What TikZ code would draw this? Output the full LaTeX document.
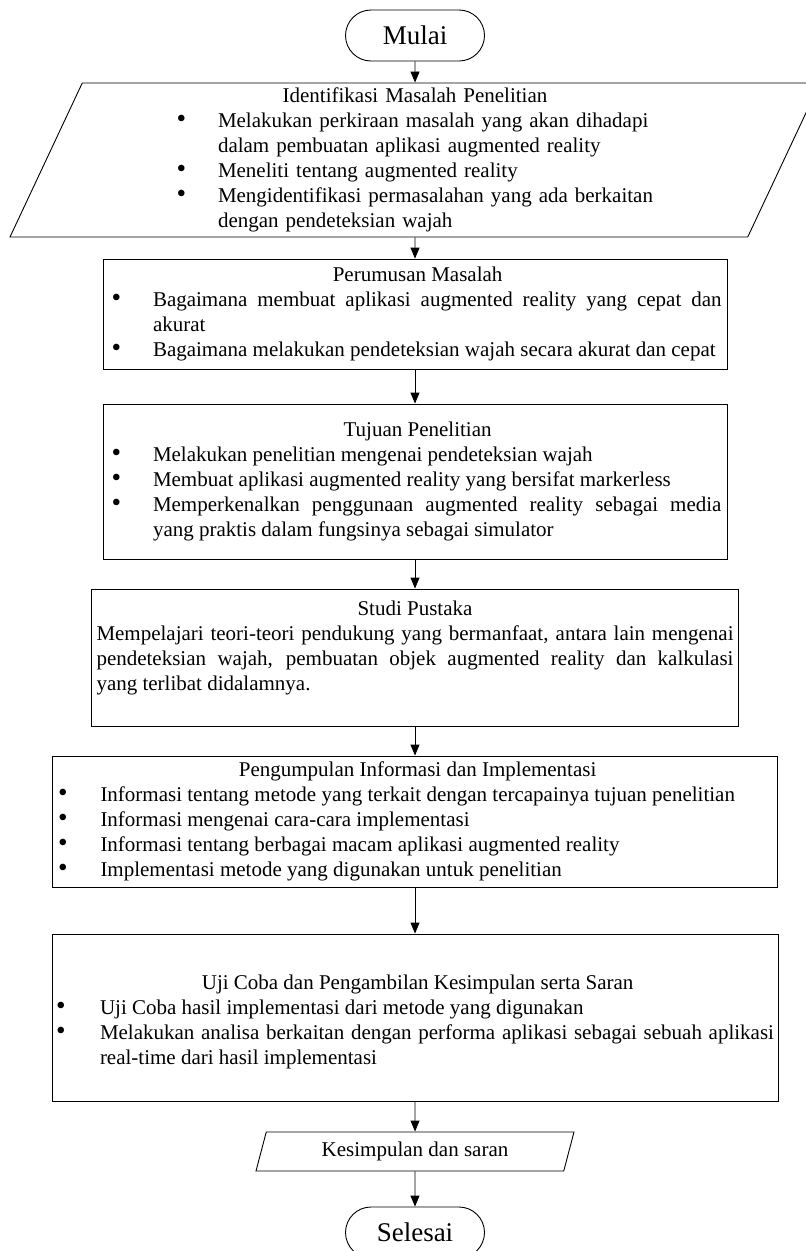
\documentclass[tikz,border=0pt]{standalone}
\usepackage{fontspec}
\usepackage{graphicx}
\setmainfont{Liberation Serif}
\usetikzlibrary{shapes.geometric,shapes.misc,arrows.meta}

\setlength\parindent{0pt}
\hyphenpenalty=10000
\exhyphenpenalty=10000

\newlength\bulpos
\newlength\bulind
\newcommand\butir[1]{\par\noindent\hangindent=\bulind\hangafter=1%
  \makebox[\bulind][l]{\hspace{\bulpos}\scalebox{1.3}{\textbullet}}#1\par}

\tikzset{
  garis/.style={line width=0.9pt},
  terminal/.style={draw, garis, rounded rectangle, minimum width=139pt, minimum height=51pt, inner sep=0pt, font=\fontsize{27}{30}\selectfont},
  proses/.style={draw, garis, rectangle, inner sep=0pt, align=justify, font=\fontsize{21}{25}\selectfont},
  dataio/.style={draw, garis, trapezium, trapezium stretches body, inner sep=0pt, font=\fontsize{21}{25}\selectfont},
  panah/.style={garis, -{Triangle[length=11pt,width=9pt]}}
}

\begin{document}
\begin{tikzpicture}[x=1pt,y=-1pt]

\useasboundingbox (0,0) rectangle (806,1251);

\node[terminal] (mulai) at (415,35.5) {Mulai};

\node[dataio, trapezium left angle=63.4, trapezium right angle=116.6,
      minimum width=810pt, minimum height=154pt, text width=490pt, align=left] (identifikasi) at (415,160) {%
  \setlength\bulpos{6.5pt}\setlength\bulind{48pt}\raggedright
  {\centering Identifikasi Masalah Penelitian\par}
  \butir{Melakukan perkiraan masalah yang akan dihadapi\newline dalam pembuatan aplikasi augmented reality}
  \butir{Meneliti tentang augmented reality}
  \butir{Mengidentifikasi permasalahan yang ada berkaitan\newline dengan pendeteksian wajah}};

\node[proses, minimum width=624pt, minimum height=110pt, text width=613pt] (rumusan) at (415,314) {%
  \setlength\bulpos{3pt}\setlength\bulind{44.5pt}
  {\centering Perumusan Masalah\par}
  \butir{Bagaimana membuat aplikasi augmented reality yang cepat dan\linebreak akurat}
  \butir{Bagaimana melakukan pendeteksian wajah secara akurat dan cepat}};

\node[proses, minimum width=624pt, minimum height=155pt, text width=613pt] (tujuan) at (415,481.5) {%
  \setlength\bulpos{3pt}\setlength\bulind{44.5pt}
  {\centering Tujuan Penelitian\par}
  \butir{Melakukan penelitian mengenai pendeteksian wajah}
  \butir{Membuat aplikasi augmented reality yang bersifat markerless}
  \butir{Memperkenalkan penggunaan augmented reality sebagai media\linebreak yang praktis dalam fungsinya sebagai simulator}};

\node[proses, minimum width=647pt, minimum height=137pt, text width=637pt] (pustaka) at (415,657.5) {%
  {\centering Studi Pustaka\par}
  Mempelajari teori-teori pendukung yang bermanfaat, antara lain mengenai\linebreak
  pendeteksian wajah, pembuatan objek augmented reality dan kalkulasi\linebreak
  yang terlibat didalamnya.\rule[-23pt]{0pt}{1pt}};

\node[proses, minimum width=725pt, minimum height=131pt, text width=714pt] (informasi) at (415,821.5) {%
  \setlength\bulpos{0pt}\setlength\bulind{42.5pt}
  {\centering Pengumpulan Informasi dan Implementasi\par}
  \butir{Informasi tentang metode yang terkait dengan tercapainya tujuan penelitian}
  \butir{Informasi mengenai cara-cara implementasi}
  \butir{Informasi tentang berbagai macam aplikasi augmented reality}
  \butir{Implementasi metode yang digunakan untuk penelitian}};

\node[proses, minimum width=726pt, minimum height=167pt, text width=718pt] (ujicoba) at (415,1017.5) {%
  \setlength\bulpos{0pt}\setlength\bulind{44pt}
  {\centering\rule{0pt}{23pt}Uji Coba dan Pengambilan Kesimpulan serta Saran\par}
  \butir{Uji Coba hasil implementasi dari metode yang digunakan}
  \butir{Melakukan analisa berkaitan dengan performa aplikasi sebagai sebuah aplikasi\linebreak real-time dari hasil implementasi}};

\node[dataio, trapezium left angle=61.7, trapezium right angle=118.3,
      minimum width=318pt, minimum height=39pt] (kesimpulan) at (415,1151.5) {Kesimpulan dan saran};

\node[terminal] (selesai) at (415,1232.5) {Selesai};

% alur
\draw[panah] (mulai.south) -- (identifikasi.north);
\draw[panah] (identifikasi.south) -- (rumusan.north);
\draw[panah] (rumusan.south) -- (tujuan.north);
\draw[panah] (tujuan.south) -- (pustaka.north);
\draw[panah] (pustaka.south) -- (informasi.north);
\draw[panah] (informasi.south) -- (ujicoba.north);
\draw[panah] (ujicoba.south) -- (kesimpulan.north);
\draw[panah] (kesimpulan.south) -- (selesai.north);

\end{tikzpicture}
\end{document}
